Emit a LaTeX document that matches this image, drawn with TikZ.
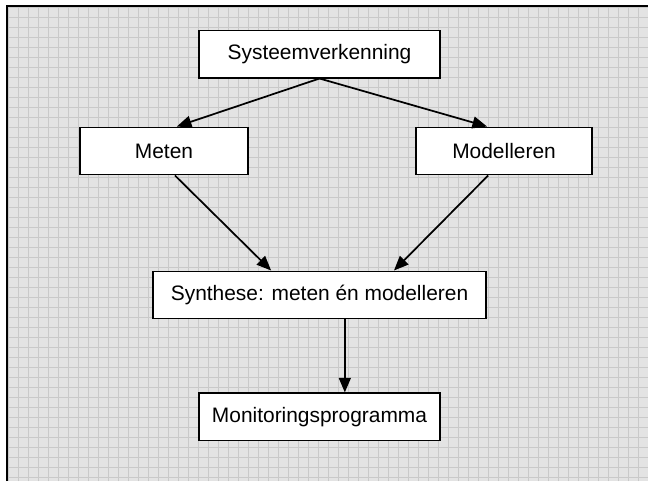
\documentclass[tikz,border=0pt]{standalone}
\usepackage{fontspec}
\setmainfont{Liberation Sans}
\usetikzlibrary{positioning,arrows.meta}

\begin{document}
\begin{tikzpicture}
	[auto,node distance=1.27cm,>={Triangle[length=11pt,width=9pt]}]
	\tikzstyle{block}=[rectangle, draw, fill=white, line width=1.3pt, minimum height=1.25cm, font=\fontsize{15.75}{19}\selectfont];
	\tikzstyle{pijl}=[->, line width=1.3pt];

	\useasboundingbox (0,0) rectangle (17.145,-12.727);
	% achtergrond met raster
	\fill[gray!22] (0.185,-0.159) rectangle (17.145,-12.727);
	\draw[gray!42, line width=0.5pt, xshift=0.212cm, yshift=-0.185cm]
		(0,0) grid[step=0.2646cm] (16.94,-12.55);
	\draw[line width=1.5pt] (0.185,-12.727) -- (0.185,-0.159) -- (17.145,-0.159);

	\node[block, minimum width=6.38cm] (sys) at (8.454,-1.429) {Systeemverkenning};
	\node[block, minimum width=4.45cm, below=of sys, xshift=-4.115cm] (meten) {Meten};
	\node[block, minimum width=4.66cm, below=of sys, xshift=4.882cm] (model) {Modelleren};
	\node[block, minimum width=8.81cm, below=5.08cm of sys] (synth) {Synthese: meten én modelleren};
	\node[block, minimum width=6.38cm, below=1.93cm of synth] (monit) {Monitoringsprogramma};

	\draw[pijl] (sys.south) -- ([xshift=0.34cm]meten.north);
	\draw[pijl] (sys.south) -- ([xshift=-0.45cm]model.north);
	\draw[pijl] ([xshift=0.29cm]meten.south) -- ([xshift=-1.28cm]synth.north);
	\draw[pijl] ([xshift=-0.42cm]model.south) -- ([xshift=1.97cm]synth.north);
	\draw[pijl] ([xshift=0.67cm]synth.south) -- ([xshift=0.67cm]monit.north);

\end{tikzpicture}
\end{document}
